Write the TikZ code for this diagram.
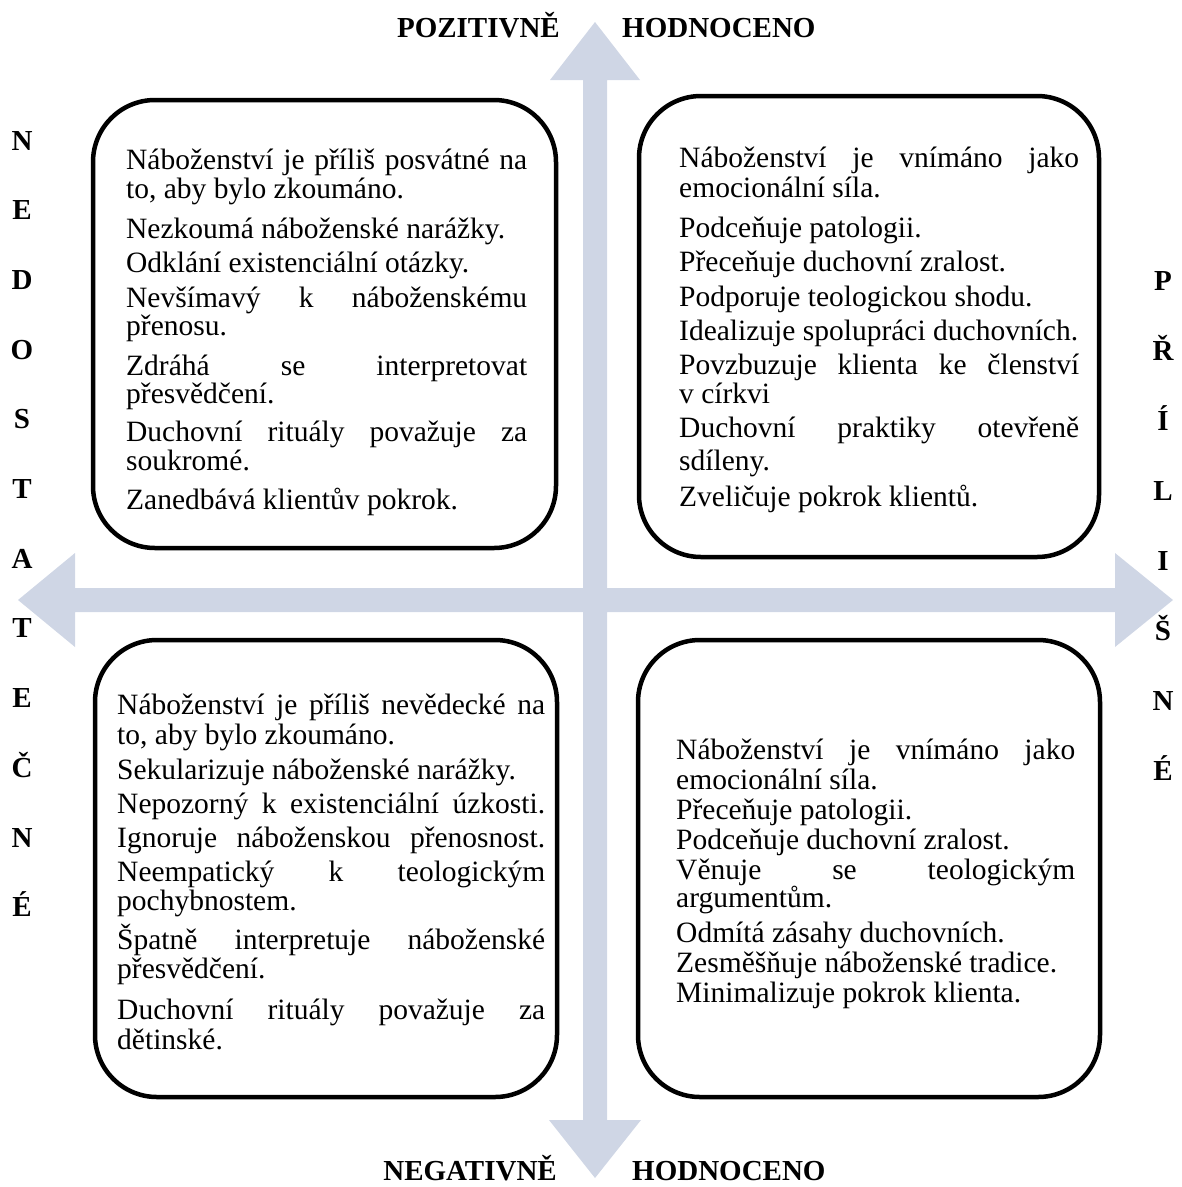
\documentclass[tikz,border=0pt]{standalone}
\usepackage{fontspec}
\setmainfont{Liberation Serif}
\definecolor{axisblue}{RGB}{207,214,229}
\newcommand\jl[2]{\makebox[#1][s]{#2}}
\tikzset{
  box/.style={draw=black, line width=4.5pt, rounded corners=62pt, fill=white, inner sep=0pt},
  txt/.style={anchor=base west, inner sep=0pt, font=\fontsize{29.5}{33}\selectfont},
  lbl/.style={inner sep=0pt, font=\fontsize{29}{33}\selectfont\bfseries},
  axisfill/.style={fill=axisblue, draw=none}
}
\begin{document}
\begin{tikzpicture}[x=1pt,y=-1pt]
\useasboundingbox (0,0) rectangle (1182,1187);
% axes
\fill[axisfill] (583,80) -- (550,80) -- (595,22) -- (640,80) -- (607,80) -- (607,588)
  -- (1115,588) -- (1115,553) -- (1173,600) -- (1115,647) -- (1115,612) -- (607,612)
  -- (607,1120) -- (641,1120) -- (595,1178) -- (549,1120) -- (583,1120) -- (583,612)
  -- (75,612) -- (75,647) -- (18,600) -- (75,553) -- (75,588) -- (583,588) -- cycle;
% boxes
\node[box, minimum width=463pt, minimum height=448pt] (tl) at (324.5,324) {};
\node[box, minimum width=460pt, minimum height=461pt] (tr) at (869,326.5) {};
\node[box, minimum width=462pt, minimum height=457pt] (bl) at (326,868.5) {};
\node[box, minimum width=462pt, minimum height=457pt] (br) at (869,868.5) {};
% top-left text
\foreach \y/\t [count=\i] in {
  169/{\jl{401pt}{Náboženství je příliš posvátné na}},
  198/{to, aby bylo zkoumáno.},
  238/{Nezkoumá náboženské narážky.},
  272/{Odklání existenciální otázky.},
  307/{\jl{401pt}{Nevšímavý k náboženskému}},
  335/{přenosu.},
  375/{\jl{401pt}{Zdráhá se interpretovat}},
  403/{přesvědčení.},
  441/{\jl{401pt}{Duchovní rituály považuje za}},
  470/{soukromé.},
  509/{Zanedbává klientův pokrok.}}
  \node[txt] (tl\i) at (126,\y) {\t};
% top-right text
\foreach \y/\t [count=\i] in {
  167/{\jl{400pt}{Náboženství je vnímáno jako}},
  197/{emocionální síla.},
  237/{Podceňuje patologii.},
  271/{Přeceňuje duchovní zralost.},
  306/{Podporuje teologickou shodu.},
  340/{Idealizuje spolupráci duchovních.},
  374/{\jl{400pt}{Povzbuzuje klienta ke členství}},
  403/{v církvi},
  437/{\jl{400pt}{Duchovní praktiky otevřeně}},
  470/{sdíleny.},
  506/{Zveličuje pokrok klientů.}}
  \node[txt] (tr\i) at (679,\y) {\t};
% bottom-left text
\foreach \y/\t [count=\i] in {
  714/{\jl{428pt}{Náboženství je příliš nevědecké na}},
  744/{to, aby bylo zkoumáno.},
  779/{Sekularizuje náboženské narážky.},
  813/{\jl{428pt}{Nepozorný k existenciální úzkosti.}},
  847/{\jl{428pt}{Ignoruje náboženskou přenosnost.}},
  881/{\jl{428pt}{Neempatický k teologickým}},
  910/{pochybnostem.},
  949/{\jl{428pt}{Špatně interpretuje náboženské}},
  978/{přesvědčení.},
  1019/{\jl{428pt}{Duchovní rituály považuje za}},
  1049/{dětinské.}}
  \node[txt] (bl\i) at (117,\y) {\t};
% bottom-right text
\foreach \y/\t [count=\i] in {
  759/{\jl{399pt}{Náboženství je vnímáno jako}},
  789/{emocionální síla.},
  819/{Přeceňuje patologii.},
  849/{Podceňuje duchovní zralost.},
  879/{\jl{399pt}{Věnuje se teologickým}},
  907/{argumentům.},
  942/{Odmítá zásahy duchovních.},
  972/{Zesměšňuje náboženské tradice.},
  1002/{Minimalizuje pokrok klienta.}}
  \node[txt] (br\i) at (676,\y) {\t};
% axis labels
\node[lbl, anchor=base east] (pos) at (560,37) {POZITIVNĚ};
\node[lbl, anchor=base west] (poh) at (622,37) {HODNOCENO};
\node[lbl, anchor=base east] (neg) at (557,1180) {NEGATIVNĚ};
\node[lbl, anchor=base west] (neh) at (632,1180) {HODNOCENO};
% vertical words
\foreach \l [count=\i] in {N,E,D,O,S,T,A,T,E,Č,N,É}
  \node[lbl, anchor=base] (left\i) at (22,{150+69.7*(\i-1)}) {\l};
\foreach \l [count=\i] in {P,Ř,Í,L,I,Š,N,É}
  \node[lbl, anchor=base] (right\i) at (1163,{290+70*(\i-1)}) {\l};
\end{tikzpicture}
\end{document}
